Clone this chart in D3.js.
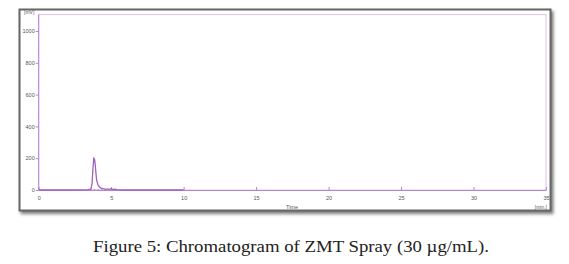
<!DOCTYPE html>
<html>
<head>
<meta charset="utf-8">
<script src="https://cdn.jsdelivr.net/npm/d3@7"></script>
<style>
body{margin:0;background:#fff;}
</style>
</head>
<body>
<script>
// retention time (min) and detector signal (mV)
var times = [0, 1, 2, 3, 3.4, 3.6, 3.68, 3.74, 3.8, 3.85, 3.9, 3.95, 4.0, 4.1, 4.2, 4.3, 4.45, 4.6, 4.75, 4.9, 5.0, 5.1, 5.25, 5.4, 5.6, 6, 7, 8, 9, 10];
var signal = [0, 0, 0, 1, 2, 5, 40, 130, 200, 195, 160, 105, 60, 30, 18, 12, 8, 6, 5, 4, 9, 3, 6, 2, 1, 0, 0, 0, 0, 0];
var xTicks = [0, 5, 10, 15, 20, 25, 30, 35];
var yTicks = [0, 200, 400, 600, 800, 1000];

var W = 569, H = 264;
var svg = d3.select("body").append("svg").attr("width", W).attr("height", H);

var defs = svg.append("defs");
var f = defs.append("filter").attr("id","sh").attr("x","-5%").attr("y","-5%").attr("width","115%").attr("height","120%");
f.append("feDropShadow").attr("dx",2).attr("dy",2.5).attr("stdDeviation",1.5).attr("flood-color","#666").attr("flood-opacity",0.85);

// outer frame
svg.append("rect")
   .attr("x",19.5).attr("y",9.5).attr("width",531).attr("height",201)
   .attr("fill","#fff").attr("stroke","#666").attr("stroke-width",2)
   .attr("filter","url(#sh)");

var x = d3.scaleLinear().domain([0,35]).range([38.7,546]);
var y = d3.scaleLinear().domain([0,1000]).range([190,31]);

// plot border
svg.append("rect")
   .attr("x",38.7).attr("y",14.5).attr("width",546-38.7).attr("height",190-14.5)
   .attr("fill","none").attr("stroke","#e2cbe9").attr("stroke-width",1.2);

var xAxis = d3.axisBottom(x).tickValues(xTicks).tickSizeInner(-3).tickSizeOuter(0).tickPadding(6);
var gx = svg.append("g").attr("transform","translate(0,190)").call(xAxis);
gx.select(".domain").attr("stroke","#b985cc").attr("stroke-width",1);
gx.selectAll(".tick line").attr("stroke","#b985cc");
gx.selectAll("text").attr("font-family","Liberation Sans, Arial, sans-serif").attr("font-size",5.5).attr("fill","#555");

var yAxis = d3.axisLeft(y).tickValues(yTicks).tickFormat(d3.format("d")).tickSize(3).tickSizeOuter(0).tickPadding(1);
var gy = svg.append("g").attr("transform","translate(38.7,0)").call(yAxis);
gy.select(".domain").attr("d","M0,14.5V190").attr("stroke","#b985cc").attr("stroke-width",1);
gy.selectAll(".tick line").attr("stroke","#b985cc");
gy.selectAll("text").attr("font-family","Liberation Sans, Arial, sans-serif").attr("font-size",5.5).attr("fill","#555");

// axis units
svg.append("text").attr("x",24).attr("y",14).attr("font-family","Liberation Sans, Arial, sans-serif")
   .attr("font-size",5).attr("fill","#555").text("[mV]");
svg.append("text").attr("x",292).attr("y",209).attr("text-anchor","middle").attr("font-family","Liberation Sans, Arial, sans-serif")
   .attr("font-size",5.5).attr("fill","#555").text("Time");
svg.append("text").attr("x",547).attr("y",208.5).attr("text-anchor","end").attr("font-family","Liberation Sans, Arial, sans-serif")
   .attr("font-size",5).attr("fill","#555").text("[min.]");

// integration baseline
svg.append("line")
   .attr("x1",x(3.55)).attr("x2",x(5.5)).attr("y1",y(3)).attr("y2",y(3))
   .attr("stroke","#b07cc6").attr("stroke-width",0.6).attr("stroke-dasharray","2,1.5");

var line = d3.line().x(function(d,i){return x(times[i]);}).y(function(d){return y(d);});
svg.append("path").datum(signal).attr("d",line)
   .attr("fill","none").attr("stroke","#9f63bb").attr("stroke-width",1.3);

// caption
svg.append("text").attr("x",291).attr("y",252).attr("text-anchor","middle")
   .attr("font-family","Liberation Serif, DejaVu Serif, serif").attr("font-size",16).attr("fill","#222")
   .attr("textLength",396).attr("lengthAdjust","spacingAndGlyphs")
   .text("Figure 5: Chromatogram of ZMT Spray (30 \u00b5g/mL).");
</script>
</body>
</html>
